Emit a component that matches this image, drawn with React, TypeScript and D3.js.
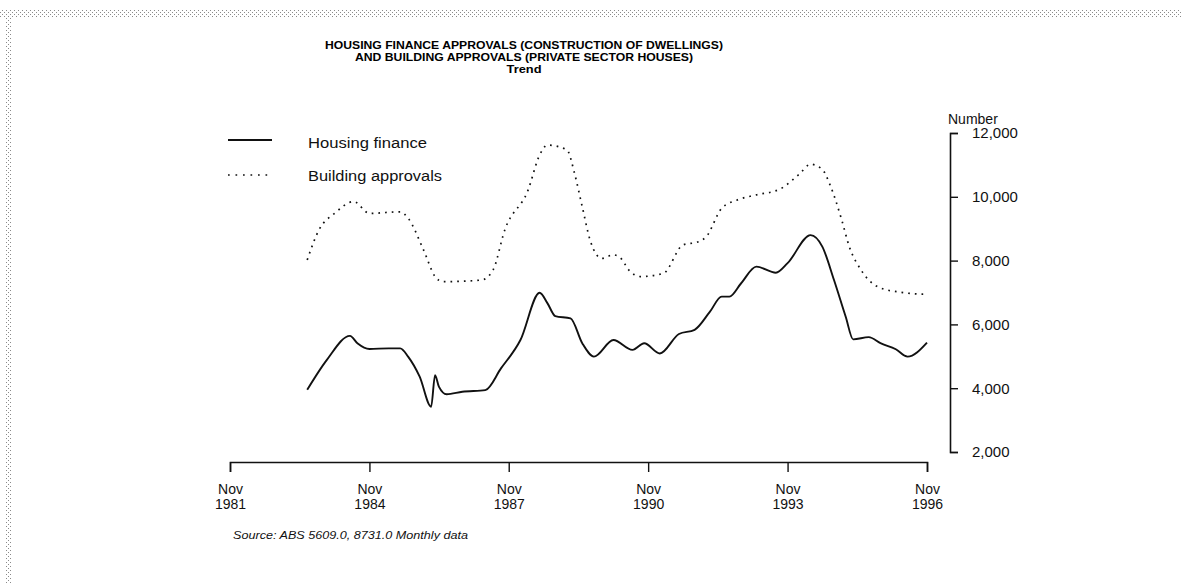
import React, { useEffect, useRef } from 'react';
import * as d3 from 'd3';

// Housing finance approvals (construction of dwellings), trend
const financeMonths = [
  '1983-07', '1983-12', '1984-06', '1984-08', '1984-11', '1985-04', '1985-07', '1985-09',
  '1985-12', '1986-03', '1986-04', '1986-05', '1986-07', '1986-11', '1987-05', '1987-09',
  '1988-02', '1988-07', '1988-09', '1988-11', '1989-03', '1989-06', '1989-09', '1990-02',
  '1990-07', '1990-10', '1991-02', '1991-07', '1991-11', '1992-03', '1992-06', '1992-08',
  '1992-11', '1993-03', '1993-08', '1993-11', '1994-05', '1994-08', '1994-11', '1995-02',
  '1995-04', '1995-08', '1995-11', '1996-03', '1996-06', '1996-11',
];
const financeValues = [
  3950, 4880, 5640, 5400, 5230, 5250, 5250, 4990,
  4360, 3420, 4410, 4050, 3810, 3890, 3940, 4620,
  5510, 6990, 6660, 6260, 6190, 5410, 4990, 5510,
  5200, 5410, 5090, 5700, 5830, 6400, 6870, 6870,
  7290, 7810, 7620, 7920, 8800, 8440, 7390, 6240,
  5530, 5600, 5410, 5220, 4990, 5430,
];

// Building approvals (private sector houses), trend
const approvalMonths = [
  '1983-07', '1983-10', '1984-02', '1984-07', '1984-11', '1985-07', '1985-09', '1986-01',
  '1986-04', '1986-06', '1987-04', '1987-07', '1987-10', '1988-04', '1988-07', '1988-09',
  '1989-02', '1989-04', '1989-06', '1989-08', '1989-11', '1990-02', '1990-04', '1990-06',
  '1990-09', '1991-03', '1991-08', '1991-12', '1992-02', '1992-06', '1992-10', '1993-03',
  '1993-09', '1994-02', '1994-05', '1994-08', '1994-10', '1995-01', '1995-03', '1995-06',
  '1995-10', '1996-04', '1996-11',
];
const approvalValues = [
  8020, 8960, 9480, 9850, 9480, 9530, 9330, 8330,
  7500, 7340, 7390, 7710, 8960, 10210, 11310, 11620,
  11470, 10740, 9690, 8650, 8070, 8180, 8070, 7710,
  7500, 7600, 8490, 8590, 8750, 9640, 9900, 10060,
  10240, 10710, 11020, 10860, 10370, 9270, 8440, 7710,
  7200, 7010, 6940,
];

const xTickMonths = ['1981-11', '1984-11', '1987-11', '1990-11', '1993-11', '1996-11'];
const yTicks = [2000, 4000, 6000, 8000, 10000, 12000];

const titleLines = [
  'HOUSING FINANCE APPROVALS (CONSTRUCTION OF DWELLINGS)',
  'AND BUILDING APPROVALS (PRIVATE SECTOR HOUSES)',
  'Trend',
];

const FONT = '"Liberation Sans", Arial, Helvetica, sans-serif';

const App = () => {
  const ref = useRef<SVGSVGElement>(null);

  useEffect(() => {
    const svg = d3.select(ref.current);
    svg.selectAll('*').remove();

    const parse = d3.timeParse('%Y-%m');

    const x = d3.scaleTime()
      .domain([parse('1981-11') as Date, parse('1996-11') as Date])
      .range([230, 927]);
    const y = d3.scaleLinear().domain([2000, 12000]).range([452, 133]);

    // stippled scan edge
    const defs = svg.append('defs');
    const pat = defs.append('pattern')
      .attr('id', 'stipple')
      .attr('width', 4)
      .attr('height', 4)
      .attr('patternUnits', 'userSpaceOnUse');
    pat.append('rect').attr('x', 0).attr('y', 0).attr('width', 1).attr('height', 1).attr('fill', '#8a8a8a');
    pat.append('rect').attr('x', 2).attr('y', 2).attr('width', 1).attr('height', 1).attr('fill', '#8a8a8a');
    svg.append('rect').attr('x', 0).attr('y', 9).attr('width', 1181).attr('height', 8).attr('fill', 'url(#stipple)');
    svg.append('rect').attr('x', 5).attr('y', 9).attr('width', 7).attr('height', 574).attr('fill', 'url(#stipple)');

    // title
    const titleWidths = [398, 338, 35];
    const titleY = [48.5, 60.8, 73.1];
    titleLines.forEach((t, i) => {
      svg.append('text')
        .attr('x', 524)
        .attr('y', titleY[i])
        .attr('text-anchor', 'middle')
        .attr('textLength', titleWidths[i])
        .attr('lengthAdjust', 'spacingAndGlyphs')
        .style('font-family', FONT)
        .style('font-weight', 'bold')
        .style('font-size', '11px')
        .text(t);
    });

    // x axis
    const xAxis = d3.axisBottom(x)
      .tickValues(xTickMonths.map(m => parse(m) as Date))
      .tickSize(10)
      .tickSizeOuter(10);
    const gx = svg.append('g').attr('transform', 'translate(0,462)').call(xAxis);
    gx.select('.domain').attr('stroke', '#111').attr('stroke-width', 1.6);
    gx.selectAll('.tick line').attr('stroke', '#111').attr('stroke-width', 1.4);
    gx.selectAll('.tick text').remove();
    gx.selectAll('.tick').each(function (d: any) {
      const t = d3.select(this).append('text')
        .attr('fill', '#111')
        .attr('text-anchor', 'middle')
        .style('font-family', FONT)
        .style('font-size', '14px');
      t.append('tspan').attr('x', 0).attr('y', 32).text('Nov');
      t.append('tspan').attr('x', 0).attr('y', 47).text(d3.timeFormat('%Y')(d));
    });

    // y axis on the right
    const yAxis = d3.axisRight(y)
      .tickValues(yTicks)
      .tickSize(8)
      .tickSizeOuter(8)
      .tickPadding(14)
      .tickFormat(d3.format(','));
    const gy = svg.append('g').attr('transform', 'translate(950,0)').call(yAxis);
    gy.select('.domain').attr('stroke', '#111').attr('stroke-width', 1.6);
    gy.selectAll('.tick line').attr('stroke', '#111').attr('stroke-width', 1.4);
    gy.selectAll('.tick text')
      .attr('fill', '#111')
      .style('font-family', FONT)
      .style('font-size', '15px');

    svg.append('text')
      .attr('x', 948)
      .attr('y', 124)
      .style('font-family', FONT)
      .style('font-size', '14px')
      .attr('fill', '#111')
      .text('Number');

    // series
    const line = d3.line<[Date, number]>()
      .x(d => x(d[0]))
      .y(d => y(d[1]))
      .curve(d3.curveMonotoneX);

    const finance: [Date, number][] = financeMonths.map((m, i) => [parse(m) as Date, financeValues[i]]);
    const approvals: [Date, number][] = approvalMonths.map((m, i) => [parse(m) as Date, approvalValues[i]]);

    svg.append('path')
      .attr('d', line(approvals))
      .attr('fill', 'none')
      .attr('stroke', '#111')
      .attr('stroke-width', 1.7)
      .attr('stroke-dasharray', '1.7 5');

    svg.append('path')
      .attr('d', line(finance))
      .attr('fill', 'none')
      .attr('stroke', '#111')
      .attr('stroke-width', 1.9)
      .attr('stroke-linejoin', 'round');

    // legend
    const legend = [
      { label: 'Housing finance', y: 140, ty: 148, w: 119, dash: null },
      { label: 'Building approvals', y: 175, ty: 181, w: 134, dash: '1.7 5.8' },
    ];
    legend.forEach(l => {
      svg.append('line')
        .attr('x1', 228).attr('x2', 272)
        .attr('y1', l.y).attr('y2', l.y)
        .attr('stroke', '#111')
        .attr('stroke-width', l.dash ? 1.7 : 1.9)
        .attr('stroke-dasharray', l.dash);
      svg.append('text')
        .attr('x', 308)
        .attr('y', l.ty)
        .attr('textLength', l.w)
        .attr('lengthAdjust', 'spacingAndGlyphs')
        .style('font-family', FONT)
        .style('font-size', '14px')
        .attr('fill', '#111')
        .text(l.label);
    });

    svg.append('text')
      .attr('x', 233)
      .attr('y', 539)
      .attr('textLength', 235)
      .attr('lengthAdjust', 'spacingAndGlyphs')
      .style('font-family', FONT)
      .style('font-style', 'italic')
      .style('font-size', '11.5px')
      .attr('fill', '#111')
      .text('Source: ABS 5609.0, 8731.0 Monthly data');
  }, []);

  return (
    <svg
      ref={ref}
      width={1181}
      height={583}
      style={{ position: 'absolute', left: 0, top: 0, background: '#fff', display: 'block' }}
    />
  );
};

export default App;
